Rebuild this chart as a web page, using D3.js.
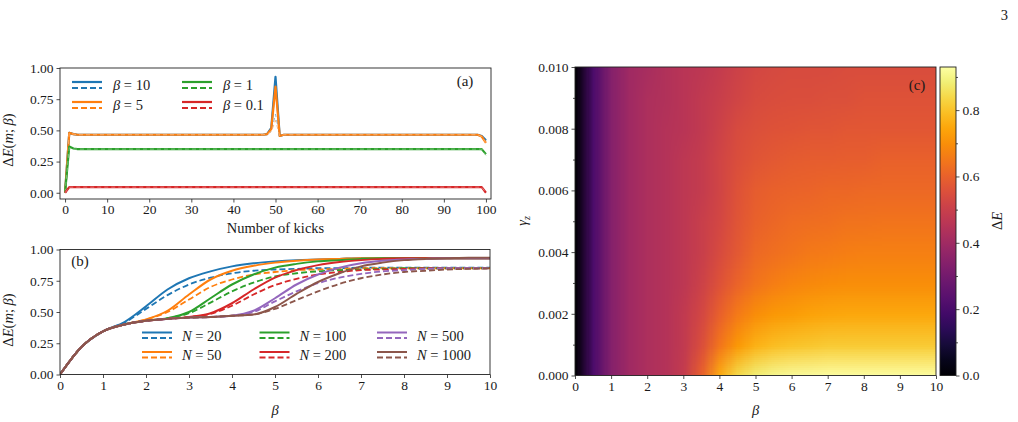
<!DOCTYPE html>
<html>
<head>
<meta charset="utf-8">
<script src="https://cdn.jsdelivr.net/npm/d3@7"></script>
<style>
	body { margin: 0; background: #fff; }
	text { font-family: "Liberation Serif", "Times New Roman", "DejaVu Serif", serif; fill: #1a1a1a; }
</style>
</head>
<body>
<svg id="fig" width="1018" height="422"></svg>
<script>

// ---- panel (a): energy per kick, [kick, value] breakpoints of each polyline
var kickBetas = ['10', '5', '1', '0.1'];
var kickSolid = [
	[[0, 0], [1, 0.48], [2, 0.47], [3, 0.465], [47, 0.465], [48, 0.47], [49, 0.52], [50, 0.93], [51, 0.455], [52, 0.465], [98, 0.465], [99, 0.455], [100, 0.42]],
	[[0, 0], [1, 0.48], [2, 0.47], [3, 0.465], [47, 0.465], [48, 0.47], [49, 0.51], [50, 0.85], [51, 0.455], [52, 0.465], [98, 0.465], [99, 0.45], [100, 0.40]],
	[[0, 0], [1, 0.37], [2, 0.355], [3, 0.35], [98, 0.35], [99, 0.35], [100, 0.31]],
	[[0, 0], [1, 0.045], [99, 0.045], [100, 0]]
];
var kickDashed = [
	[[0, 0], [1, 0.48], [2, 0.47], [3, 0.465], [47, 0.465], [48, 0.47], [49, 0.49], [50, 0.63], [51, 0.455], [52, 0.465], [98, 0.465], [99, 0.455], [100, 0.42]],
	[[0, 0], [1, 0.48], [2, 0.47], [3, 0.465], [47, 0.465], [48, 0.47], [49, 0.49], [50, 0.58], [51, 0.455], [52, 0.465], [98, 0.465], [99, 0.45], [100, 0.40]],
	[[0, 0], [1, 0.36], [2, 0.35], [99, 0.35], [100, 0.30]],
	[[0, 0], [1, 0.045], [99, 0.045], [100, 0]]
];
var kickTicks = [0, 10, 20, 30, 40, 50, 60, 70, 80, 90, 100];
var energyTicks = [0, 0.25, 0.5, 0.75, 1];

// ---- panel (b): energy vs beta for several N
var betaGrid = [0, 0.5, 1, 1.5, 2, 2.5, 3, 3.5, 4, 4.5, 5, 5.5, 6, 6.5, 7, 7.5, 8, 8.5, 9, 9.5, 10];
var sizes = ['20', '50', '100', '200', '500', '1000'];
var sizeSolid = [
	[0, .22, .345, .42, .545, .68, .77, .825, .865, .89, .905, .915, .92, .925, .93, .93, .93, .93, .93, .93, .93],
	[0, .22, .345, .40, .44, .51, .64, .76, .83, .87, .895, .91, .92, .925, .93, .93, .93, .93, .93, .93, .93],
	[0, .22, .345, .40, .43, .45, .50, .61, .72, .80, .855, .885, .905, .915, .925, .93, .93, .93, .93, .93, .93],
	[0, .22, .345, .40, .43, .445, .46, .49, .57, .68, .775, .835, .875, .90, .915, .925, .93, .93, .93, .93, .93],
	[0, .22, .345, .40, .43, .445, .455, .46, .47, .51, .61, .72, .80, .855, .89, .91, .92, .925, .93, .93, .93],
	[0, .22, .345, .40, .43, .445, .455, .46, .47, .48, .54, .645, .74, .81, .865, .895, .915, .925, .93, .935, .935]
];
var sizeDashed = [
	[0, .22, .345, .415, .525, .635, .72, .775, .81, .83, .84, .845, .85, .85, .855, .855, .855, .855, .855, .855, .855],
	[0, .22, .345, .40, .44, .50, .60, .70, .76, .80, .82, .835, .84, .845, .85, .85, .85, .85, .85, .85, .85],
	[0, .22, .345, .40, .43, .45, .49, .575, .665, .735, .785, .81, .825, .835, .84, .845, .85, .85, .85, .85, .85],
	[0, .22, .345, .40, .43, .445, .46, .485, .55, .64, .715, .765, .80, .82, .835, .84, .845, .85, .85, .85, .85],
	[0, .22, .345, .40, .43, .445, .455, .46, .47, .50, .585, .665, .73, .775, .805, .825, .835, .845, .85, .85, .85],
	[0, .22, .345, .40, .43, .445, .455, .46, .47, .48, .525, .595, .665, .725, .77, .80, .82, .83, .84, .845, .85]
];
var betaTicks = [0, 1, 2, 3, 4, 5, 6, 7, 8, 9, 10];

// ---- panel (c): map over (beta, gamma_z), rows = gamma values, columns = betaGrid
var gammaGrid = [0, 0.001, 0.002, 0.003, 0.004, 0.005, 0.006, 0.007, 0.008, 0.009, 0.010];
var heatRows = [
	[0, .21, .34, .40, .43, .45, .49, .60, .76, .85, .89, .91, .92, .925, .93, .93, .93, .93, .93, .93, .93],
	[0, .21, .34, .40, .43, .45, .48, .55, .65, .72, .77, .79, .80, .81, .815, .815, .815, .815, .815, .815, .815],
	[0, .21, .34, .40, .43, .45, .48, .53, .60, .66, .70, .72, .73, .74, .745, .75, .75, .75, .75, .75, .75],
	[0, .21, .34, .40, .43, .45, .47, .51, .56, .61, .645, .665, .68, .69, .695, .70, .70, .70, .70, .70, .70],
	[0, .21, .34, .40, .43, .45, .47, .50, .54, .58, .62, .635, .645, .655, .66, .665, .67, .67, .67, .67, .67],
	[0, .21, .34, .40, .43, .45, .47, .50, .53, .57, .60, .615, .625, .63, .635, .64, .64, .645, .645, .645, .645],
	[0, .21, .34, .40, .43, .45, .47, .49, .52, .56, .59, .60, .605, .61, .615, .615, .62, .62, .62, .62, .62],
	[0, .21, .34, .40, .43, .45, .47, .49, .52, .55, .57, .58, .585, .59, .59, .595, .595, .60, .60, .60, .60],
	[0, .21, .34, .40, .43, .45, .46, .48, .51, .54, .555, .56, .565, .57, .57, .575, .575, .575, .575, .575, .575],
	[0, .21, .34, .40, .43, .44, .46, .48, .50, .52, .54, .545, .55, .55, .555, .555, .56, .56, .56, .56, .56],
	[0, .21, .34, .40, .42, .44, .46, .47, .49, .51, .53, .535, .54, .54, .54, .545, .545, .545, .545, .545, .545]
];
var gammaTicks = [0, 0.002, 0.004, 0.006, 0.008, 0.010];
var gammaMinor = [0.001, 0.003, 0.005, 0.007, 0.009];
var barTicks = [0, 0.2, 0.4, 0.6, 0.8];
var barMinor = [0.1, 0.3, 0.5, 0.7, 0.9];
var barMax = 0.93;

var palette = ['#1f77b4', '#ff7f0e', '#2ca02c', '#d62728', '#9467bd', '#8c564b'];
var fontSize = 13.5;
var labelSize = 14.5;

var svg = d3.select('#fig');

// write text with italic pieces: parts = [[str, italic], ...]
function mathText(sel, parts) {
	parts.forEach(function(p) {
		sel.append('tspan').text(p[0]).style('font-style', p[1] ? 'italic' : 'normal');
	});
	return sel;
}

function energyLabel(x, y) {
	var t = svg.append('text')
		.attr('transform', 'translate(' + x + ',' + y + ') rotate(-90)')
		.attr('text-anchor', 'middle')
		.style('font-size', labelSize + 'px');
	mathText(t, [['Δ', 0], ['E', 1], ['(', 0], ['m', 1], ['; ', 0], ['β', 1], [')', 0]]);
}

function styleAxis(g) {
	g.select('.domain').remove();
	g.selectAll('.tick line').attr('stroke', '#222').attr('stroke-width', 0.8);
	g.selectAll('.tick text').style('font-size', fontSize + 'px')
		.style('font-family', '"Liberation Serif", "Times New Roman", serif').attr('fill', '#1a1a1a');
}

function frame(x0, x1, y0, y1) {
	svg.append('rect')
		.attr('x', x0).attr('y', y0)
		.attr('width', x1 - x0).attr('height', y1 - y0)
		.attr('fill', 'none').attr('stroke', '#222').attr('stroke-width', 0.9);
}

function clip(id, x0, x1, y0, y1) {
	svg.append('clipPath').attr('id', id).append('rect')
		.attr('x', x0).attr('y', y0).attr('width', x1 - x0).attr('height', y1 - y0);
}

// ================= panel (a)
var xa = d3.scaleLinear().domain([-1.2, 101.2]).range([60, 491]);
var ya = d3.scaleLinear().domain([-0.05, 1]).range([199, 68]);
clip('clipA', 60, 491, 68, 199);

var lineA = d3.line().x(function(d) { return xa(d[0]); }).y(function(d) { return ya(d[1]); });
var gA = svg.append('g').attr('clip-path', 'url(#clipA)');
kickBetas.forEach(function(b, i) {
	gA.append('path').attr('d', lineA(kickSolid[i]))
		.attr('fill', 'none').attr('stroke', palette[i]).attr('stroke-width', 2.2).attr('stroke-linejoin', 'round');
	gA.append('path').attr('d', lineA(kickDashed[i]))
		.attr('fill', 'none').attr('stroke', d3.interpolateRgb(palette[i], '#fff')(0.4))
		.attr('stroke-width', 0.9).attr('stroke-dasharray', '4,3');
});

svg.append('g').attr('transform', 'translate(0,199)')
	.call(d3.axisBottom(xa).tickValues(kickTicks).tickSize(3.5).tickPadding(2))
	.call(styleAxis);
svg.append('g').attr('transform', 'translate(60,0)')
	.call(d3.axisLeft(ya).tickValues(energyTicks).tickFormat(d3.format('.2f')).tickSize(3.5).tickPadding(3))
	.call(styleAxis);
frame(60, 491, 68, 199);

svg.append('text').attr('x', 275.5).attr('y', 233).attr('text-anchor', 'middle')
	.style('font-size', labelSize + 'px').text('Number of kicks');
energyLabel(13, 140);
svg.append('text').attr('x', 465).attr('y', 86).attr('text-anchor', 'middle')
	.style('font-size', '15px').text('(a)');

// legend (a): two columns, column-major
kickBetas.forEach(function(b, i) {
	var col = Math.floor(i / 2), row = i % 2;
	var hx = 72 + col * 110, hy = 82 + row * 20;
	svg.append('line').attr('x1', hx).attr('x2', hx + 30).attr('y1', hy).attr('y2', hy)
		.attr('stroke', palette[i]).attr('stroke-width', 2.2);
	svg.append('line').attr('x1', hx).attr('x2', hx + 30).attr('y1', hy + 6).attr('y2', hy + 6)
		.attr('stroke', palette[i]).attr('stroke-width', 1.8).attr('stroke-dasharray', '6,3');
	var t = svg.append('text').attr('x', hx + 41).attr('y', hy + 8).style('font-size', labelSize + 'px');
	mathText(t, [['β', 1], [' = ' + b, 0]]);
});

// ================= panel (b)
var xb = d3.scaleLinear().domain([0, 10]).range([60, 490]);
var yb = d3.scaleLinear().domain([0, 1]).range([374.5, 249.5]);
clip('clipB', 60, 490, 249.5, 374.5);

var lineB = d3.line()
	.x(function(d, i) { return xb(betaGrid[i]); })
	.y(function(d) { return yb(d); })
	.curve(d3.curveMonotoneX);
var gB = svg.append('g').attr('clip-path', 'url(#clipB)');
sizes.forEach(function(n, i) {
	gB.append('path').attr('d', lineB(sizeSolid[i]))
		.attr('fill', 'none').attr('stroke', palette[i]).attr('stroke-width', 2);
	gB.append('path').attr('d', lineB(sizeDashed[i]))
		.attr('fill', 'none').attr('stroke', palette[i]).attr('stroke-width', 1.8).attr('stroke-dasharray', '6,3');
});

svg.append('g').attr('transform', 'translate(0,374.5)')
	.call(d3.axisBottom(xb).tickValues(betaTicks).tickFormat(d3.format('d')).tickSize(3.5).tickPadding(2))
	.call(styleAxis);
svg.append('g').attr('transform', 'translate(60,0)')
	.call(d3.axisLeft(yb).tickValues(energyTicks).tickFormat(d3.format('.2f')).tickSize(3.5).tickPadding(3))
	.call(styleAxis);
frame(60, 490, 249.5, 374.5);

mathText(svg.append('text').attr('x', 275).attr('y', 415).attr('text-anchor', 'middle').style('font-size', labelSize + 'px'), [['β', 1]]);
energyLabel(13, 320);
svg.append('text').attr('x', 80).attr('y', 266).attr('text-anchor', 'middle')
	.style('font-size', '15px').text('(b)');

sizes.forEach(function(n, i) {
	var col = Math.floor(i / 2), row = i % 2;
	var hx = 142 + col * 117.5, hy = 332.5 + row * 19.5;
	svg.append('line').attr('x1', hx).attr('x2', hx + 30).attr('y1', hy).attr('y2', hy)
		.attr('stroke', palette[i]).attr('stroke-width', 2);
	svg.append('line').attr('x1', hx).attr('x2', hx + 30).attr('y1', hy + 5.5).attr('y2', hy + 5.5)
		.attr('stroke', palette[i]).attr('stroke-width', 1.8).attr('stroke-dasharray', '6,3');
	var t = svg.append('text').attr('x', hx + 40).attr('y', hy + 8).style('font-size', labelSize + 'px');
	mathText(t, [['N', 1], [' = ' + n, 0]]);
});

// ================= panel (c)
var xc = d3.scaleLinear().domain([0, 10]).range([575, 936]);
var yc = d3.scaleLinear().domain([0, 0.01]).range([375.5, 67]);
var color = d3.scaleSequential(d3.interpolateInferno).domain([0, barMax]);
clip('clipC', 575, 936, 67, 375.5);

// one canvas pixel per grid value, scaled up smoothly by the browser
var cv = document.createElement('canvas');
cv.width = betaGrid.length;
cv.height = gammaGrid.length;
var ctx = cv.getContext('2d');
heatRows.forEach(function(row, r) {
	row.forEach(function(v, c) {
		ctx.fillStyle = color(v);
		ctx.fillRect(c, gammaGrid.length - 1 - r, 1, 1);
	});
});
var dB = (betaGrid[1] - betaGrid[0]) / 2, dG = (gammaGrid[1] - gammaGrid[0]) / 2;
svg.append('g').attr('clip-path', 'url(#clipC)')
	.append('image')
	.attr('href', cv.toDataURL())
	.attr('x', xc(betaGrid[0] - dB))
	.attr('y', yc(gammaGrid[gammaGrid.length - 1] + dG))
	.attr('width', xc(betaGrid[betaGrid.length - 1] + dB) - xc(betaGrid[0] - dB))
	.attr('height', yc(gammaGrid[0] - dG) - yc(gammaGrid[gammaGrid.length - 1] + dG))
	.attr('preserveAspectRatio', 'none');

svg.append('g').attr('transform', 'translate(0,375.5)')
	.call(d3.axisBottom(xc).tickValues(betaTicks).tickFormat(d3.format('d')).tickSize(3.5).tickPadding(2))
	.call(styleAxis);
svg.append('g').attr('transform', 'translate(575,0)')
	.call(d3.axisLeft(yc).tickValues(gammaTicks).tickFormat(d3.format('.3f')).tickSize(3.5).tickPadding(3))
	.call(styleAxis);
svg.append('g').attr('transform', 'translate(575,0)')
	.call(d3.axisLeft(yc).tickValues(gammaMinor).tickFormat('').tickSize(2))
	.call(styleAxis);
frame(575, 936, 67, 375.5);

mathText(svg.append('text').attr('x', 755.5).attr('y', 415).attr('text-anchor', 'middle').style('font-size', labelSize + 'px'), [['β', 1]]);
var gl = svg.append('text').attr('transform', 'translate(527,221) rotate(-90)').attr('text-anchor', 'middle').style('font-size', labelSize + 'px');
gl.append('tspan').text('γ').style('font-style', 'italic');
gl.append('tspan').text('z').style('font-style', 'italic').style('font-size', '10px').attr('dy', 3);
svg.append('text').attr('x', 917).attr('y', 90).attr('text-anchor', 'middle')
	.style('font-size', '15px').text('(c)');

// colorbar
var yBar = d3.scaleLinear().domain([0, barMax]).range([375.5, 67]);
var grad = svg.append('defs').append('linearGradient').attr('id', 'barGrad')
	.attr('x1', 0).attr('y1', 1).attr('x2', 0).attr('y2', 0);
d3.range(0, 1.0001, 0.05).forEach(function(f) {
	grad.append('stop').attr('offset', f).attr('stop-color', color(f * barMax));
});
svg.append('rect').attr('x', 940).attr('y', 67).attr('width', 16).attr('height', 308.5)
	.attr('fill', 'url(#barGrad)');
svg.append('g').attr('transform', 'translate(956,0)')
	.call(d3.axisRight(yBar).tickValues(barTicks).tickFormat(d3.format('.1f')).tickSize(3.5).tickPadding(3))
	.call(styleAxis);
svg.append('g').attr('transform', 'translate(956,0)')
	.call(d3.axisRight(yBar).tickValues(barMinor).tickFormat('').tickSize(2))
	.call(styleAxis);
frame(940, 956, 67, 375.5);
var cl = svg.append('text').attr('transform', 'translate(1002,221) rotate(-90)').attr('text-anchor', 'middle').style('font-size', labelSize + 'px');
mathText(cl, [['Δ', 0], ['E', 1]]);

svg.append('text').attr('x', 1008).attr('y', 20).attr('text-anchor', 'end').style('font-size', labelSize + 'px').text('3');

</script>
</body>
</html>
